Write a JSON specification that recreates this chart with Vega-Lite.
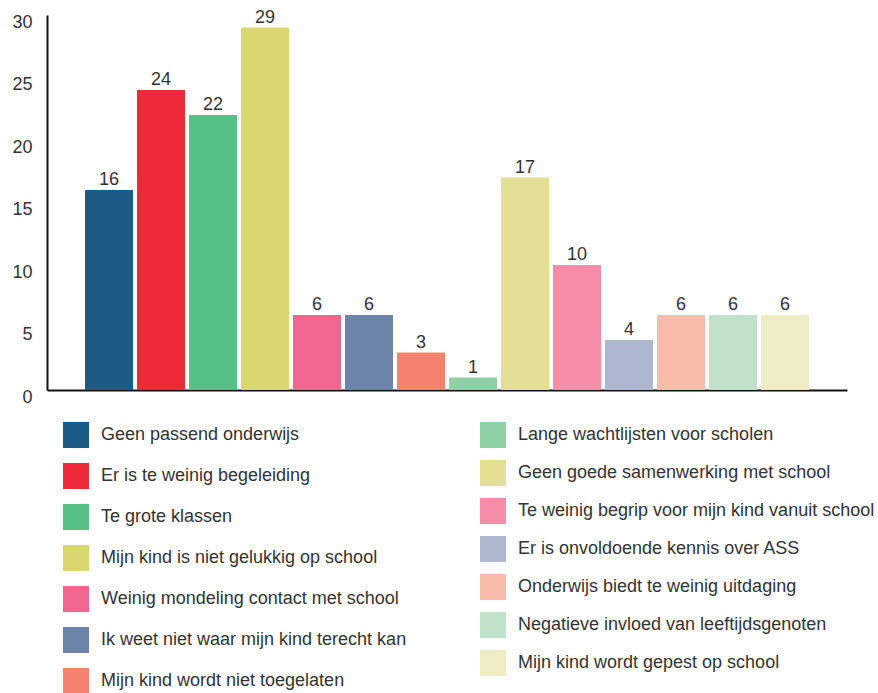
{
  "$schema": "https://vega.github.io/schema/vega-lite/v6.json",
  "autosize": "none",
  "width": 800,
  "height": 375,
  "padding": {"top": 15, "left": 47, "right": 31, "bottom": 303},
  "background": "white",
  "config": {
    "view": {"stroke": null},
    "font": "Liberation Sans",
    "text": {"font": "Liberation Sans"}
  },
  "data": {
    "values": [
      {"cat": "Geen passend onderwijs", "value": 16, "grp": 1},
      {"cat": "Er is te weinig begeleiding", "value": 24, "grp": 1},
      {"cat": "Te grote klassen", "value": 22, "grp": 1},
      {"cat": "Mijn kind is niet gelukkig op school", "value": 29, "grp": 1},
      {"cat": "Weinig mondeling contact met school", "value": 6, "grp": 1},
      {"cat": "Ik weet niet waar mijn kind terecht kan", "value": 6, "grp": 1},
      {"cat": "Mijn kind wordt niet toegelaten", "value": 3, "grp": 1},
      {"cat": "Lange wachtlijsten voor scholen", "value": 1, "grp": 2},
      {"cat": "Geen goede samenwerking met school", "value": 17, "grp": 2},
      {"cat": "Te weinig begrip voor mijn kind vanuit school", "value": 10, "grp": 2},
      {"cat": "Er is onvoldoende kennis over ASS", "value": 4, "grp": 2},
      {"cat": "Onderwijs biedt te weinig uitdaging", "value": 6, "grp": 2},
      {"cat": "Negatieve invloed van leeftijdsgenoten", "value": 6, "grp": 2},
      {"cat": "Mijn kind wordt gepest op school", "value": 6, "grp": 2}
    ]
  },
  "encoding": {
    "x": {
      "field": "cat",
      "type": "nominal",
      "sort": null,
      "scale": {
        "domain": ["Geen passend onderwijs", "Er is te weinig begeleiding", "Te grote klassen", "Mijn kind is niet gelukkig op school", "Weinig mondeling contact met school", "Ik weet niet waar mijn kind terecht kan", "Mijn kind wordt niet toegelaten", "Lange wachtlijsten voor scholen", "Geen goede samenwerking met school", "Te weinig begrip voor mijn kind vanuit school", "Er is onvoldoende kennis over ASS", "Onderwijs biedt te weinig uitdaging", "Negatieve invloed van leeftijdsgenoten", "Mijn kind wordt gepest op school"],
        "paddingInner": 0.077,
        "paddingOuter": 0.731
      },
      "axis": {
        "title": null,
        "labels": false,
        "ticks": false,
        "domainColor": "#111111",
        "domainWidth": 2
      }
    },
    "y": {
      "field": "value",
      "type": "quantitative",
      "scale": {"domain": [0, 30], "nice": false},
      "axis": {
        "title": null,
        "values": [0, 5, 10, 15, 20, 25, 30],
        "ticks": false,
        "grid": false,
        "domainColor": "#111111",
        "domainWidth": 2,
        "labelFontSize": 18,
        "labelColor": "#333333",
        "labelPadding": 15,
        "labelOffset": 7,
        "labelFlush": false
      }
    }
  },
  "layer": [
    {
      "transform": [{"filter": "datum.grp == 1"}],
      "mark": {"type": "bar"},
      "encoding": {
        "color": {
          "field": "cat",
          "type": "nominal",
          "scale": {
            "domain": ["Geen passend onderwijs", "Er is te weinig begeleiding", "Te grote klassen", "Mijn kind is niet gelukkig op school", "Weinig mondeling contact met school", "Ik weet niet waar mijn kind terecht kan", "Mijn kind wordt niet toegelaten"],
            "range": ["#1d5b87", "#ee2939", "#56c087", "#dbd770", "#f0668e", "#6b84a8", "#f5826e"]
          },
          "legend": {
            "title": null,
            "orient": "none",
            "legendX": 16,
            "legendY": 407,
            "padding": 0,
            "symbolType": "square",
            "symbolSize": 676,
            "symbolStrokeWidth": 0,
            "symbolOpacity": 1,
            "labelFontSize": 18,
            "labelColor": "#333333",
            "labelOffset": 12,
            "rowPadding": 15,
            "labelLimit": 400
          }
        }
      }
    },
    {
      "transform": [{"filter": "datum.grp == 2"}],
      "mark": {"type": "bar"},
      "encoding": {
        "color": {
          "field": "cat",
          "type": "nominal",
          "scale": {
            "domain": ["Lange wachtlijsten voor scholen", "Geen goede samenwerking met school", "Te weinig begrip voor mijn kind vanuit school", "Er is onvoldoende kennis over ASS", "Onderwijs biedt te weinig uitdaging", "Negatieve invloed van leeftijdsgenoten", "Mijn kind wordt gepest op school"],
            "range": ["#8fd1a4", "#e3e096", "#f58ca8", "#adb8cf", "#f9bcab", "#c1e2c8", "#efebc4"]
          },
          "legend": {
            "title": null,
            "orient": "none",
            "legendX": 433,
            "legendY": 407,
            "padding": 0,
            "symbolType": "square",
            "symbolSize": 676,
            "symbolStrokeWidth": 0,
            "symbolOpacity": 1,
            "labelFontSize": 18,
            "labelColor": "#333333",
            "labelOffset": 12,
            "rowPadding": 12,
            "labelLimit": 400
          }
        }
      }
    },
    {
      "mark": {"type": "text", "baseline": "alphabetic", "dy": -5, "fontSize": 18, "color": "#333333"},
      "encoding": {
        "text": {"field": "value", "type": "quantitative"}
      }
    }
  ],
  "resolve": {"scale": {"color": "independent"}, "legend": {"color": "independent"}}
}
